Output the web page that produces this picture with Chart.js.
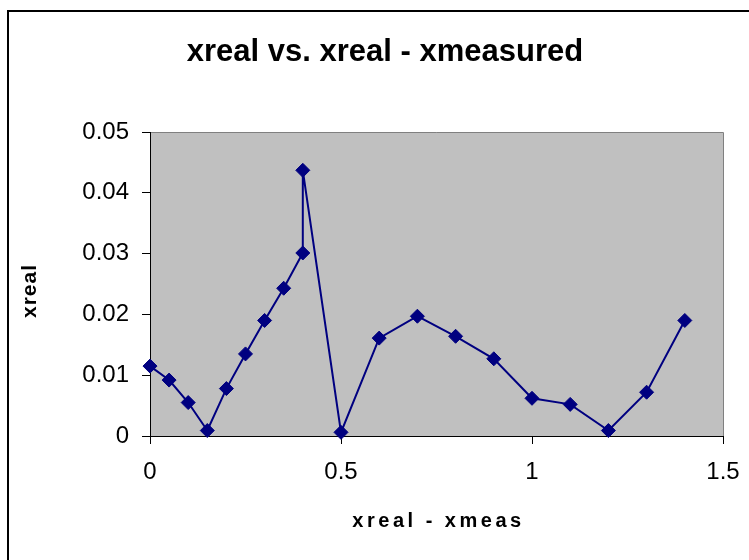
<!DOCTYPE html>
<html>
<head>
<meta charset="utf-8">
<script src="https://cdn.jsdelivr.net/npm/chart.js@4/dist/chart.umd.min.js"></script>
<style>
  body { margin: 0; background: #fff; }
</style>
</head>
<body>
<canvas id="chart" width="749" height="560"></canvas>
<script>
// data
var xValues = [0, 0.05, 0.1, 0.15, 0.2, 0.25, 0.3, 0.35, 0.4, 0.4, 0.5, 0.6, 0.7, 0.8, 0.9, 1.0, 1.1, 1.2, 1.3, 1.4];
var yValues = [0.0115, 0.0092, 0.0055, 0.0009, 0.0078, 0.0135, 0.0190, 0.0243, 0.0301, 0.0437, 0.0006, 0.0161, 0.0197, 0.0164, 0.0127, 0.0062, 0.0052, 0.0009, 0.0072, 0.0190];
var xTickLabels = ['0', '0.5', '1', '1.5'];
var yTickLabels = ['0', '0.01', '0.02', '0.03', '0.04', '0.05'];
var chartTitle = 'xreal vs. xreal - xmeasured';
var xTitle = 'xreal - xmeas';
var yTitle = 'xreal';

var FONT = '"Liberation Sans", Arial, sans-serif';

var points = [];
for (var i = 0; i < xValues.length; i++) {
	points.push({ x: xValues[i], y: yValues[i] });
}

// gray plot area, its frame, outer border and the texts
var decor = {
	id: 'decor',
	beforeDraw: function (chart) {
		var ctx = chart.ctx;
		var a = chart.chartArea;
		ctx.save();
		ctx.fillStyle = '#fff';
		ctx.fillRect(0, 0, chart.width, chart.height);
		ctx.fillStyle = '#C0C0C0';
		ctx.fillRect(a.left, a.top, a.right - a.left, a.bottom - a.top);
		ctx.strokeStyle = '#808080';
		ctx.lineWidth = 1;
		ctx.beginPath();
		ctx.moveTo(a.left, a.top + 0.5);
		ctx.lineTo(a.right + 0.5, a.top + 0.5);
		ctx.lineTo(a.right + 0.5, a.bottom);
		ctx.stroke();
		ctx.strokeStyle = '#000';
		ctx.lineWidth = 2;
		ctx.strokeRect(8, 11, chart.width + 20, chart.height + 20);

		ctx.fillStyle = '#000';
		ctx.textAlign = 'center';
		ctx.textBaseline = 'middle';
		ctx.font = 'bold 31px ' + FONT;
		ctx.fillText(chartTitle, 385, 52);

		// axis titles, spaced out like the original
		ctx.font = 'bold 20px ' + FONT;
		ctx.letterSpacing = '3.5px';
		ctx.fillText(xTitle, (a.left + a.right) / 2 + 2, 521);
		ctx.letterSpacing = '1px';
		ctx.font = 'bold 21px ' + FONT;
		ctx.translate(30, 291);
		ctx.rotate(-Math.PI / 2);
		ctx.fillText(yTitle, 0, 0);
		ctx.restore();
	}
};

var ctx = document.getElementById('chart');
var myChart = new Chart(ctx, {
	type: 'scatter',
	data: {
		datasets: [{
			data: points,
			showLine: true,
			borderColor: '#000080',
			backgroundColor: '#000080',
			borderWidth: 2,
			pointStyle: 'rectRot',
			pointRadius: 7,
			pointBorderWidth: 1,
			clip: false
		}]
	},
	options: {
		responsive: false,
		animation: false,
		layout: { padding: { left: 0, top: 132, right: 26, bottom: 0 } },
		plugins: {
			legend: { display: false },
			tooltip: { enabled: false }
		},
		scales: {
			x: {
				type: 'linear',
				min: 0,
				max: 1.5,
				afterFit: function (scale) {
					scale.height = 124;
					scale.paddingLeft = 0;
					scale.paddingRight = 0;
				},
				afterBuildTicks: function (scale) {
					scale.ticks = xTickLabels.map(function (t) { return { value: parseFloat(t) }; });
				},
				ticks: {
					color: '#000',
					padding: 14,
					maxRotation: 0,
					font: { family: FONT, size: 24 },
					callback: function (value, index) { return xTickLabels[index]; }
				},
				grid: { drawOnChartArea: false, drawTicks: true, tickLength: 8, color: '#000' },
				border: { color: '#000', width: 1 }
			},
			y: {
				type: 'linear',
				min: 0,
				max: 0.05,
				afterFit: function (scale) {
					scale.width = 150;
					scale.paddingTop = 0;
					scale.paddingBottom = 0;
				},
				afterBuildTicks: function (scale) {
					scale.ticks = yTickLabels.map(function (t) { return { value: parseFloat(t) }; });
				},
				ticks: {
					color: '#000',
					padding: 13,
					font: { family: FONT, size: 24 },
					callback: function (value, index) { return yTickLabels[index]; }
				},
				grid: { drawOnChartArea: false, drawTicks: true, tickLength: 8, color: '#000' },
				border: { color: '#000', width: 1 }
			}
		}
	},
	plugins: [decor]
});
</script>
</body>
</html>
